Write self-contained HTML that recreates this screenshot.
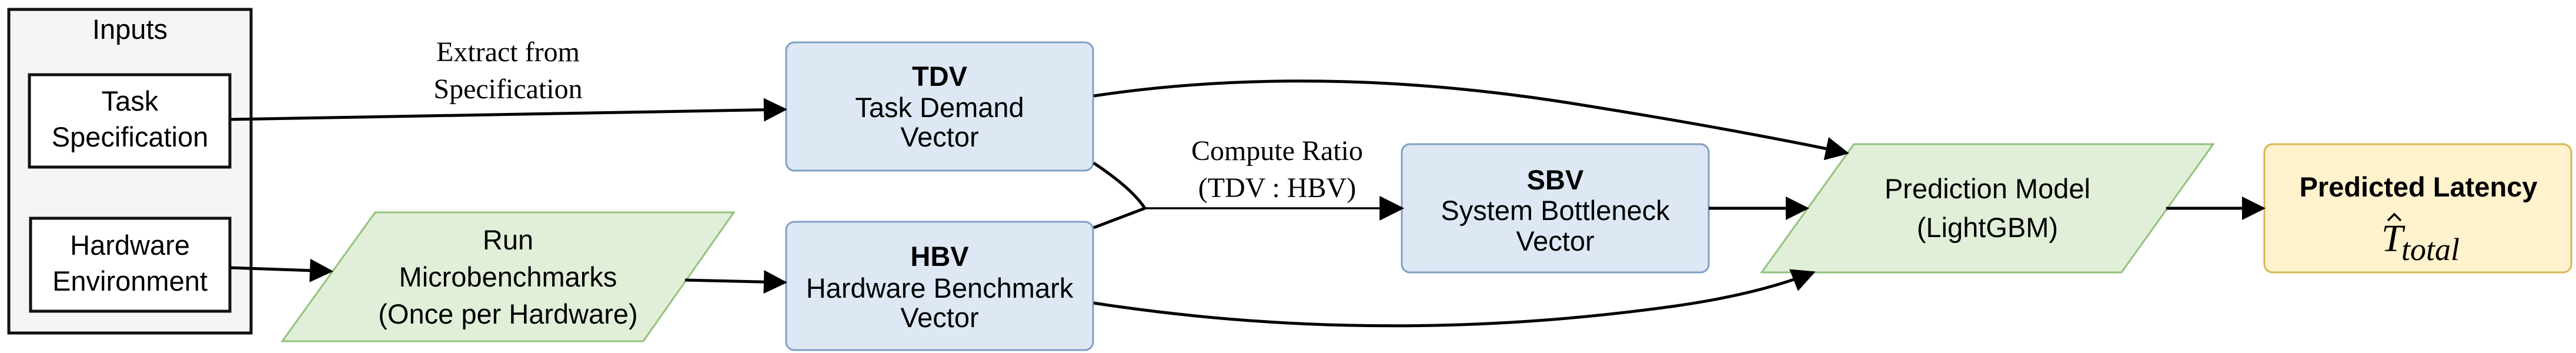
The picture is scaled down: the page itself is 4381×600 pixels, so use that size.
<!DOCTYPE html>
<html><head><meta charset="utf-8"><style>
html,body{margin:0;padding:0;background:#fff;}
svg{display:block;}
.s{font-family:"Liberation Sans",Arial,sans-serif;font-size:47px;fill:#000;text-anchor:middle;}
.b{font-weight:bold;}
.r{font-family:"Liberation Serif","Times New Roman",serif;font-size:48px;fill:#000;text-anchor:middle;}
</style></head><body>
<svg width="4381" height="600" viewBox="0 0 4381 600" xmlns="http://www.w3.org/2000/svg">
<defs>
<marker id="a" viewBox="0 0 10 10" refX="9" refY="5" markerWidth="9" markerHeight="8" markerUnits="strokeWidth" orient="auto">
<path d="M0,0 L10,5 L0,10 z" fill="#000"/></marker>
<marker id="a2" viewBox="0 0 10 10" refX="9" refY="5" markerWidth="14" markerHeight="12" markerUnits="strokeWidth" orient="auto">
<path d="M0,0 L10,5 L0,10 z" fill="#000"/></marker>
</defs>
<!-- Inputs -->
<rect x="15" y="16" width="412" height="550" fill="#f5f5f5" stroke="#111" stroke-width="5"/>
<text class="s" x="221" y="66" font-size="49">Inputs</text>
<rect x="50" y="127" width="341" height="157" fill="#fff" stroke="#111" stroke-width="5"/>
<text class="s" x="221" y="188">Task</text>
<text class="s" x="221" y="249">Specification</text>
<rect x="52" y="371" width="339" height="158" fill="#fff" stroke="#111" stroke-width="5"/>
<text class="s" x="221" y="433">Hardware</text>
<text class="s" x="221" y="494">Environment</text>
<!-- Run -->
<polygon points="638,361 1248,361 1094,580 480,580" fill="#e1efd9" stroke="#91c27a" stroke-width="3"/>
<text class="s" x="864" y="424">Run</text>
<text class="s" x="864" y="487">Microbenchmarks</text>
<text class="s" x="864" y="550">(Once per Hardware)</text>
<!-- TDV -->
<rect x="1337" y="72" width="522" height="218" rx="14" fill="#dde8f4" stroke="#7f9fc4" stroke-width="3"/>
<text class="s b" x="1598" y="146">TDV</text>
<text class="s" x="1598" y="199">Task Demand</text>
<text class="s" x="1598" y="249">Vector</text>
<!-- HBV -->
<rect x="1337" y="377" width="522" height="218" rx="14" fill="#dde8f4" stroke="#7f9fc4" stroke-width="3"/>
<text class="s b" x="1598" y="452">HBV</text>
<text class="s" x="1598" y="506">Hardware Benchmark</text>
<text class="s" x="1598" y="556">Vector</text>
<!-- SBV -->
<rect x="2384" y="245" width="522" height="218" rx="14" fill="#dde8f4" stroke="#7f9fc4" stroke-width="3"/>
<text class="s b" x="2645" y="322">SBV</text>
<text class="s" x="2645" y="374">System Bottleneck</text>
<text class="s" x="2645" y="426">Vector</text>
<!-- Prediction -->
<polygon points="3153,245 3764,245 3608,463 2996,463" fill="#e1efd9" stroke="#91c27a" stroke-width="3"/>
<text class="s" x="3380" y="337">Prediction Model</text>
<text class="s" x="3380" y="403">(LightGBM)</text>
<!-- Latency -->
<rect x="3851" y="245" width="522" height="218" rx="14" fill="#fff2cc" stroke="#d6b656" stroke-width="3"/>
<text class="s b" x="4113" y="334">Predicted Latency</text>
<text x="4050" y="427" font-family="'Liberation Serif',serif" font-style="italic" font-size="66">T</text>
<path d="M4061,375 L4072,364 L4083,375" fill="none" stroke="#000" stroke-width="3.5"/>
<text x="4084" y="442" font-family="'Liberation Serif',serif" font-style="italic" font-size="54">total</text>
<!-- labels -->
<text class="r" x="864" y="104">Extract from</text>
<text class="r" x="864" y="167">Specification</text>
<text class="r" x="2172" y="272">Compute Ratio</text>
<text class="r" x="2172" y="335">(TDV : HBV)</text>
<!-- connectors -->
<g fill="none" stroke="#000" stroke-width="5">
<line x1="391" y1="203" x2="1335" y2="186" marker-end="url(#a)"/>
<line x1="391" y1="455" x2="563" y2="461" marker-end="url(#a)"/>
<line x1="1165" y1="476" x2="1335" y2="480" marker-end="url(#a)"/>
<path d="M1860,277 Q1925,320 1947,354"/>
<path d="M1860,387 L1947,354"/>
<path d="M1860,163 Q2250,105 2700,180 Q2950,220 3141,260" marker-end="url(#a)"/>
<path d="M1860,515 Q2350,590 2850,520 Q2990,500 3084,463" marker-end="url(#a)"/>
<line x1="2906" y1="354" x2="3073" y2="354" marker-end="url(#a)"/>
<line x1="3684" y1="354" x2="3849" y2="354" marker-end="url(#a)"/>
</g>
<line x1="1947" y1="354" x2="2384" y2="354" stroke="#000" stroke-width="3.5" marker-end="url(#a2)"/>
</svg>
</body></html>
